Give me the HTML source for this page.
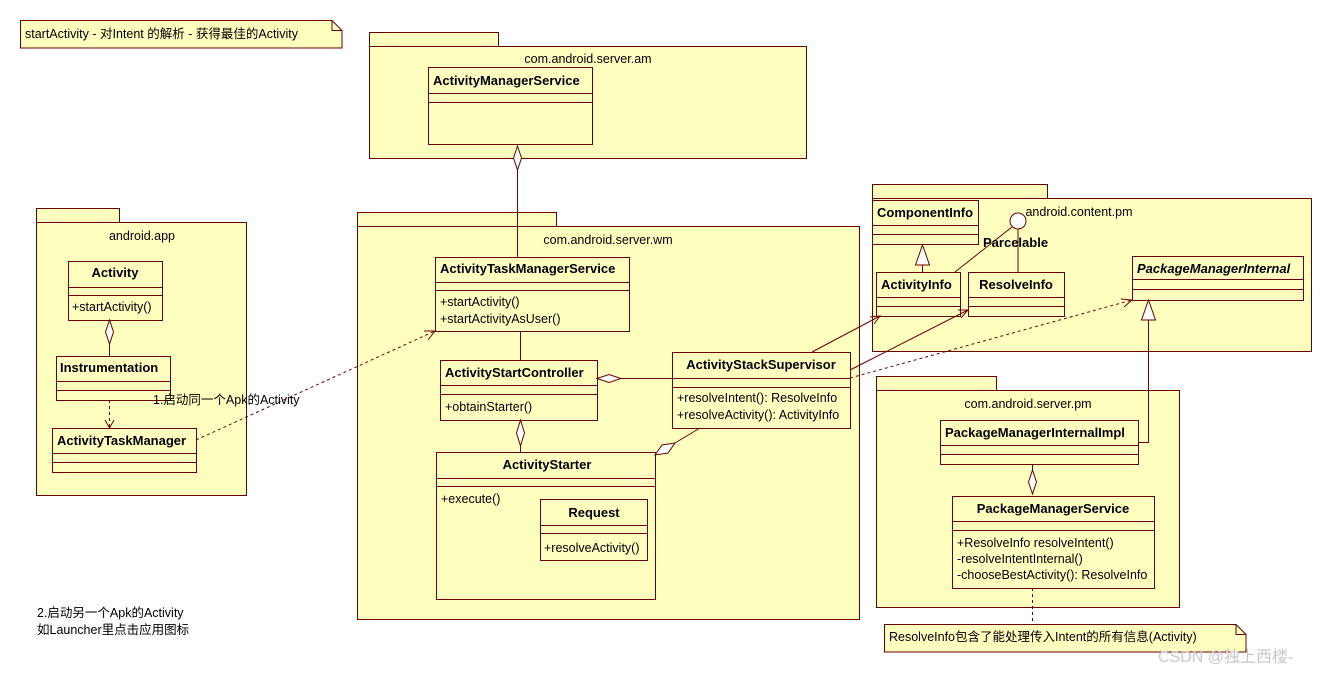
<!DOCTYPE html>
<html><head><meta charset="utf-8"><style>
body{margin:0;background:#fff}
svg text{font-family:"Liberation Sans","Noto Sans CJK SC",sans-serif;font-size:12.5px;fill:#000}
.b{font-weight:bold;font-size:13px}
</style></head><body>
<svg width="1332" height="673" viewBox="0 0 1332 673" xmlns="http://www.w3.org/2000/svg">
<g fill="#ffffc0" stroke="#6b0000" stroke-width="1">
<path d="M20.5 20.5H332l10 10v17.5H20.5z"/><path d="M332 20.5v10h10" fill="none"/>
<rect x="369.5" y="32.5" width="129" height="14"/><rect x="369.5" y="46.5" width="437" height="112"/>
<rect x="36.5" y="208.5" width="83" height="14"/><rect x="36.5" y="222.5" width="210" height="273"/>
<rect x="357.5" y="212.5" width="199" height="14"/><rect x="357.5" y="226.5" width="502" height="393"/>
<rect x="872.5" y="184.5" width="175" height="14"/><rect x="872.5" y="198.5" width="439" height="153"/>
<rect x="876.5" y="376.5" width="120" height="14"/><rect x="876.5" y="390.5" width="303" height="217"/>
<path d="M884.5 624.5H1236l10 10v17.5H884.5z"/><path d="M1236 624.5v10h10" fill="none"/>
<rect x="428.5" y="67.5" width="164" height="77"/><path d="M428.5 93.5h164M428.5 102.5h164" fill="none"/>
<rect x="68.5" y="261.5" width="94" height="59"/><path d="M68.5 287.5h94M68.5 295.5h94" fill="none"/>
<rect x="56.5" y="356.5" width="114" height="44"/><path d="M56.5 381.5h114M56.5 390.5h114" fill="none"/>
<rect x="52.5" y="428.5" width="144" height="44"/><path d="M52.5 453.5h144M52.5 462.5h144" fill="none"/>
<rect x="435.5" y="257.5" width="194" height="74"/><path d="M435.5 282.5h194M435.5 290.5h194" fill="none"/>
<rect x="440.5" y="360.5" width="157" height="60"/><path d="M440.5 385.5h157M440.5 394.5h157" fill="none"/>
<rect x="436.5" y="452.5" width="219" height="147"/><path d="M436.5 478.5h219M436.5 486.5h219" fill="none"/>
<rect x="540.5" y="499.5" width="107" height="61"/><path d="M540.5 525.5h107M540.5 533.5h107" fill="none"/>
<rect x="672.5" y="352.5" width="178" height="76"/><path d="M672.5 378.5h178M672.5 387.5h178" fill="none"/>
<rect x="872.5" y="200.5" width="106" height="44"/><path d="M872.5 225.5h106M872.5 234.5h106" fill="none"/>
<rect x="876.5" y="272.5" width="84" height="44"/><path d="M876.5 297.5h84M876.5 306.5h84" fill="none"/>
<rect x="968.5" y="272.5" width="96" height="44"/><path d="M968.5 297.5h96M968.5 306.5h96" fill="none"/>
<rect x="1132.5" y="256.5" width="171" height="44"/><path d="M1132.5 279.5h171M1132.5 289.5h171" fill="none"/>
<rect x="940.5" y="420.5" width="198" height="44"/><path d="M940.5 445.5h198M940.5 454.5h198" fill="none"/>
<rect x="952.5" y="496.5" width="202" height="92"/><path d="M952.5 521.5h202M952.5 530.5h202" fill="none"/>
</g>
<g fill="none" stroke="#6b0000" stroke-width="1">
<path d="M517.5 170v87"/><path d="M517.5 146l-4 12 4 12 4-12z" fill="#fff"/>
<path d="M109.5 344v12"/><path d="M109.5 320l-4 12 4 12 4-12z" fill="#fff"/>
<path d="M109.5 400v28" stroke-dasharray="3,3"/><path d="M105 420l4.5 8 4.5-8"/>
<path d="M196 440L435 331" stroke-dasharray="3,3"/><path d="M424 331l11 0-7 9"/>
<path d="M520.5 331v29"/>
<path d="M621 378.5h51"/><path d="M597 378.5l12-4 12 4-12 4z" fill="#fff"/>
<path d="M520.5 446v6"/><path d="M520.5 420l-4 13 4 13 4-13z" fill="#fff"/>
<path d="M700 428L675 443"/><path d="M655 455l7-10 13-2-7 10z" fill="#fff"/>
<path d="M812 352L880 316"/><path d="M870 317l10-1-6 8"/>
<path d="M850 370L968 310"/><path d="M958 310l10 0-7 8"/>
<path d="M850 378L1132 300" stroke-dasharray="3,3"/><path d="M1121 299l11 1-8 7"/>
<path d="M922.5 265v7"/><path d="M922.5 245l-7 20h14z" fill="#fff"/>
<circle cx="1018" cy="221" r="8" fill="#fff"/>
<path d="M1012 227L955 272M1018 229v43"/>
<path d="M1138 442.5h10.5V320"/><path d="M1148.5 300l-7 20h14z" fill="#fff"/>
<path d="M1032.5 464v6"/><path d="M1032.5 470l-4 12 4 12 4-12z" fill="#fff"/>
<path d="M1032.5 588v36" stroke-dasharray="3,3"/>
</g>
<text x="25" y="38">startActivity - 对Intent 的解析 - 获得最佳的Activity</text>
<text x="588" y="63" text-anchor="middle">com.android.server.am</text>
<text x="142" y="240" text-anchor="middle">android.app</text>
<text x="608" y="244" text-anchor="middle">com.android.server.wm</text>
<text x="1079" y="216" text-anchor="middle">android.content.pm</text>
<text x="1028" y="408" text-anchor="middle">com.android.server.pm</text>
<text class="b" x="433" y="85">ActivityManagerService</text>
<text class="b" x="115" y="277" text-anchor="middle">Activity</text>
<text x="72" y="311">+startActivity()</text>
<text class="b" x="60" y="372">Instrumentation</text>
<text class="b" x="57" y="445">ActivityTaskManager</text>
<text x="153" y="404">1.启动同一个Apk的Activity</text>
<text class="b" x="440" y="273">ActivityTaskManagerService</text>
<text x="440" y="306">+startActivity()</text>
<text x="440" y="323">+startActivityAsUser()</text>
<text class="b" x="445" y="377">ActivityStartController</text>
<text x="445" y="411">+obtainStarter()</text>
<text class="b" x="547" y="469" text-anchor="middle">ActivityStarter</text>
<text x="441" y="503">+execute()</text>
<text class="b" x="594" y="517" text-anchor="middle">Request</text>
<text x="544" y="552">+resolveActivity()</text>
<text class="b" x="761" y="369" text-anchor="middle">ActivityStackSupervisor</text>
<text x="677" y="402">+resolveIntent(): ResolveInfo</text>
<text x="677" y="419">+resolveActivity(): ActivityInfo</text>
<text class="b" x="877" y="217">ComponentInfo</text>
<text class="b" x="983" y="247">Parcelable</text>
<text class="b" x="881" y="289">ActivityInfo</text>
<text class="b" x="1016" y="289" text-anchor="middle">ResolveInfo</text>
<text class="b" x="1137" y="273" font-style="italic">PackageManagerInternal</text>
<text class="b" x="945" y="437">PackageManagerInternalImpl</text>
<text class="b" x="1053" y="513" text-anchor="middle">PackageManagerService</text>
<text x="957" y="547">+ResolveInfo resolveIntent()</text>
<text x="957" y="563">-resolveIntentInternal()</text>
<text x="957" y="579">-chooseBestActivity(): ResolveInfo</text>
<text x="889" y="641">ResolveInfo包含了能处理传入Intent的所有信息(Activity)</text>
<text x="37" y="617">2.启动另一个Apk的Activity</text>
<text x="37" y="634">如Launcher里点击应用图标</text>
<text x="1158" y="662" style="font-size:16px;fill:#c8c8c8">CSDN @独上西楼-</text>
</svg>
</body></html>
